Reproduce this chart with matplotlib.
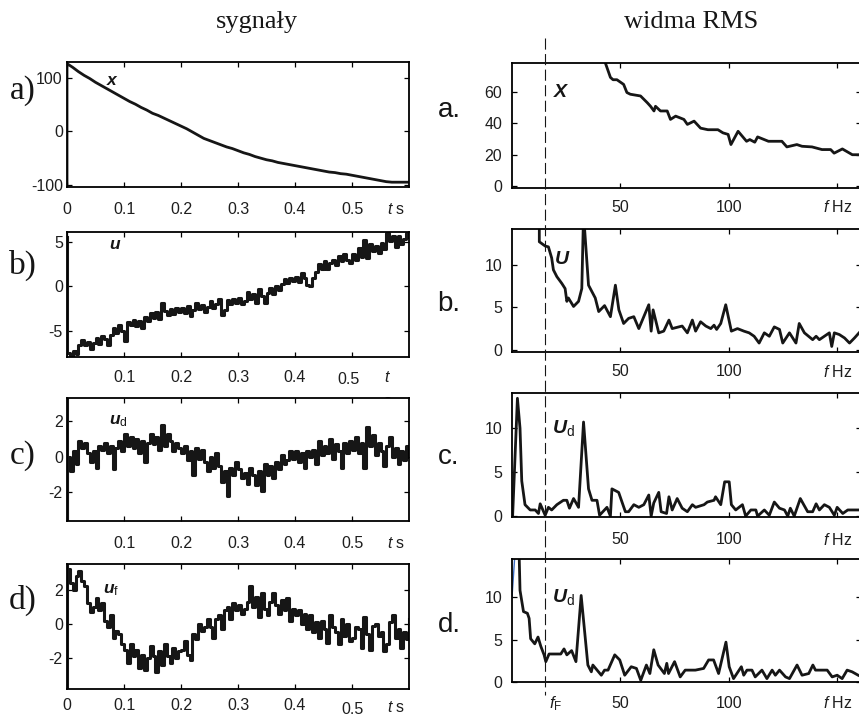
import numpy as np
import matplotlib
matplotlib.use("Agg")
import matplotlib.pyplot as plt
from matplotlib.lines import Line2D
from matplotlib.transforms import blended_transform_factory, offset_copy

plt.rcParams["font.family"] = ["Liberation Sans", "DejaVu Sans"]
plt.rcParams["axes.unicode_minus"] = False
plt.rcParams["mathtext.fontset"] = "custom"
plt.rcParams["mathtext.rm"] = "Liberation Sans"
plt.rcParams["mathtext.it"] = "Liberation Sans:italic"
plt.rcParams["mathtext.bf"] = "Liberation Sans:bold"
plt.rcParams["mathtext.bfit"] = "Liberation Sans:italic:bold"

# ---- signals (left column) ----
dt_x = 0.01
x_start = [-100]
x_sig = [127, 120, 112, 105, 99, 92, 86, 80, 74, 68,
         62, 56, 51, 45, 40, 34, 30, 25, 20, 15,
         10, 5, -1, -7, -13, -17, -21, -25, -29, -32,
         -36, -40, -43, -47, -50, -53, -55, -58, -60, -62,
         -64, -66, -68, -70, -72, -74, -76, -77, -79, -80,
         -82, -84, -86, -88, -90, -92, -94, -95, -95, -95, -95]

dt_u = 0.005
u_start = [5.5]
u_sig = [-7.5, -8.0, -7.2, -7.6, -6.5, -6.0, -6.6, -6.2, -7.0, -6.3,
         -5.8, -6.4, -5.6, -5.9, -6.5, -5.4, -4.6, -5.2, -4.3, -5.0,
         -6.1, -4.0, -4.3, -3.8, -4.4, -3.9, -4.6, -3.4, -3.9, -3.0,
         -3.5, -2.9, -3.6, -1.8, -2.8, -3.2, -2.5, -3.1, -2.4, -2.9,
         -2.4, -3.0, -2.2, -3.3, -2.6, -1.8, -2.5, -2.1, -2.9, -2.3,
         -1.6, -2.4, -2.0, -1.4, -3.2, -2.6, -1.5, -2.0, -1.4, -1.9,
         -1.3, -2.0, -1.6, -0.6, -1.4, -0.9, -1.8, -0.3, -1.1, -1.8,
         -0.7, -0.2, -0.9, 0.0, -0.4, 0.3, 0.8, 0.4, 1.0, 0.6,
         1.1, 0.5, 1.5, 1.0, 0.2, 0.0, 0.9, 1.6, 2.5, 1.9,
         2.8, 1.9, 2.6, 3.0, 2.4, 3.4, 2.9, 3.6, 3.0, 2.6,
         3.6, 3.0, 4.3, 3.3, 5.2, 3.2, 4.8, 4.0, 4.5, 3.7,
         4.9, 4.2, 6.0, 5.1, 5.7, 4.4, 5.6, 4.8, 5.3, 6.0, 5.5]

ud_start = [3.3, -3.6]
ud_sig = [0.0, -0.8, 0.3, -0.4, 0.9, 0.5, 0.8, 0.2, -0.3, 0.3,
          -0.6, 0.6, 0.4, 0.8, 0.2, 0.6, -0.7, 0.5, 0.9, 0.3,
          1.3, 0.6, 1.1, 0.5, 1.0, 0.2, 0.9, -0.3, 0.8, 1.3,
          0.7, 1.1, 0.4, 1.8, 0.6, 1.3, 0.9, 0.3, 0.8, 0.5,
          0.2, 0.6, -0.2, 0.3, -1.0, 0.5, -0.1, 0.4, -0.3, -0.8,
          0.0, -0.6, 0.2, -0.5, -1.4, -0.8, -2.2, -0.6, -1.0, -0.3,
          -0.7, -1.2, -0.9, -1.5, -0.6, -1.0, -1.6, -0.8, -1.9, -0.4,
          -1.0, -0.5, -1.2, -0.3, -0.7, 0.1, -0.4, -0.2, 0.3, -0.1,
          0.3, -0.3, 0.2, -0.6, 0.3, 0.0, 0.4, -0.4, 0.9, 0.1,
          0.6, 0.2, 1.0, -0.1, 0.7, 0.3, -0.6, 0.8, 0.2, 0.9,
          0.4, 1.1, 0.2, 0.8, -0.6, 1.7, 0.6, 1.2, 0.1, 0.8,
          0.3, -0.5, 0.6, 1.1, 0.0, 0.5, -0.4, 0.3, -0.2, 0.6, 0.0]

uf_start = [-3.8, 3.5]
uf_sig = [3.2, 2.4, 2.0, 2.8, 3.1, 2.5, 2.2, 1.2, 0.7, 1.0,
          1.5, 0.8, 1.2, 0.2, -0.2, 0.5, -0.8, -0.4, -0.6, -1.2,
          -1.5, -2.3, -1.2, -1.9, -1.5, -2.6, -1.8, -2.7, -2.0, -1.3,
          -1.9, -2.8, -1.6, -2.4, -1.2, -1.9, -2.3, -1.4, -2.0, -1.6,
          -1.5, -1.0, -1.8, -2.1, -0.6, -0.9, 0.0, -0.4, -0.2, 0.3,
          -0.2, -0.8, 0.3, 0.5, -0.3, 0.8, 1.0, 0.3, 1.2, 0.8,
          1.1, 0.6, 0.9, 1.3, 2.2, 1.0, 1.6, 0.4, 1.8, 0.9,
          0.5, 1.3, 1.8, 1.1, 0.6, 1.4, 0.8, 1.5, 0.2, 0.9,
          0.5, 0.8, 0.0, 0.6, -0.3, 0.5, -0.5, 0.1, -0.8, 0.2,
          -0.3, -1.1, 0.5, -0.2, -0.5, -1.2, 0.3, -0.7, 0.0, -1.0,
          -0.8, -0.2, -0.3, -1.4, 0.4, -0.6, -1.5, -0.1, 0.0, -0.7,
          -0.5, -1.6, -1.2, 0.1, 0.5, -0.8, -0.3, -1.4, -0.5, -0.9, 0.3]

# ---- RMS spectra (right column) ----
fX = [1.7, 10, 20, 30, 38, 43, 45.4, 46.6, 48.4, 51.5, 53, 54.6, 59.3, 62.4, 63.9,
      65.5, 66.2, 68.5, 71.6, 73.1, 75.5, 79.3, 80.9, 84, 87, 90.4, 95, 97.3, 99.7,
      101, 104.3, 108.2, 109.7, 112, 113.3, 118.3, 124.5, 126.8, 131.4, 133.8,
      138.4, 143, 147, 148.6, 152.4, 157, 161.7]
X = [300, 200, 140, 105, 88, 79, 69.5, 68, 68, 65, 59.8, 58.7, 57.6, 53.3, 51,
     48, 51, 48, 48, 42.6, 44.7, 42.6, 39.4, 41.5, 37, 36, 36, 34, 33,
     26.5, 35, 28.6, 29.7, 28, 31.4, 28.6, 28.6, 25, 26.5, 25.4,
     25, 23.3, 23.3, 21, 23.7, 20, 20]

fU = [0, 5, 10, 12.6, 12.6, 15.3, 16.8, 18.3, 19.1, 20.7, 23, 24.5, 25.3, 26, 28.4,
      30.7, 32.2, 33, 35.3, 38.4, 40, 42.7, 45.4, 47.7, 49.3, 51.5, 53.8, 56.2,
      58.5, 63.1, 64.2, 65.1, 67.7, 70, 72.4, 73.9, 78.5, 80.9, 83.2, 84.7, 87,
      89.4, 91.7, 93.2, 94.4, 96.3, 98.6, 101.2, 104, 107, 109.4, 111.7, 114,
      116.4, 118.7, 121, 123.4, 124.9, 128, 131, 132.5, 134.9, 138.7, 140.3,
      141.8, 146.4, 147.5, 148.7, 151, 153.4, 155.7, 158, 160.8]
U = [40, 25, 18, 15, 12.7, 12.2, 12.1, 10.8, 9.4, 8.6, 7.8, 7.2, 5.7, 6.1, 5.1,
     5.7, 7.2, 16, 7.6, 6.1, 4.5, 5.2, 3.9, 7.6, 4.7, 3.1, 3.7, 3.9,
     2.5, 5.3, 2.2, 4.7, 2.0, 2.2, 3.5, 2.5, 2.8, 2.0, 3.5, 2.2, 3.3,
     2.8, 2.5, 2.9, 2.4, 3.1, 5.3, 2.2, 2.5, 2.2, 2.0, 1.6, 0.8,
     2.0, 1.6, 2.7, 2.4, 0.8, 2.0, 0.8, 3.1, 2.0, 1.2, 1.6,
     1.2, 2.0, 0.4, 2.0, 1.8, 1.4, 0.8, 1.4, 2.2]

fUd = [0.3, 2.5, 3.7, 4.5, 6, 8.4, 10.7, 12.2, 13, 15.3, 16.8, 18.3, 20.7, 23.7, 25.3,
       26.5, 28.4, 30.7, 33, 35.3, 36.9, 39.2, 40.4, 43.8, 45.4, 46.1, 49.2, 52.3,
       53.8, 56.2, 58.5, 60.8, 63.1, 64.2, 65.4, 67.7, 68.8, 71.3, 72.4, 73.9,
       76.2, 78.5, 80.9, 83.2, 84.7, 88.6, 90.1, 93.2, 93.9, 96.3, 98.1, 100.2,
       101.2, 103.2, 106.3, 107.8, 110.2, 112.5, 113.3, 116.4, 118.7, 121, 123.4,
       125.7, 127.2, 128.4, 130.2, 133, 136.4, 138.7, 140.3, 141.8, 144.1, 146.4,
       148.7, 150, 152.6, 154.9, 160.8]
Ud = [0.1, 13.4, 10, 4, 1.3, 0.7, 0.7, 0.3, 1.4, 0.1, 1.0, 0.7, 1.3, 1.8, 1.8,
      0.9, 2.0, 1.0, 10.7, 3.1, 1.8, 1.8, 0.1, 1.0, 0.0, 3.1, 2.7, 0.5,
      0.5, 1.3, 1.0, 1.3, 2.4, 0.0, 1.5, 2.7, 0.5, 0.3, 2.2, 0.7,
      2.0, 0.9, 0.5, 1.3, 1.0, 1.3, 1.6, 1.8, 2.2, 1.3, 3.9, 3.9,
      1.3, 0.7, 1.3, 0.0, 0.7, 0.7, 0.0, 0.7, 0.1, 1.6, 0.9,
      0.7, 0.0, 0.9, 0.0, 2.0, 0.5, 0.5, 1.4, 0.7, 1.3, 1.0,
      0.1, 1.0, 0.3, 0.7, 0.7]

fUf = [1.7, 3.3, 3.7, 5.3, 7.1, 7.9, 8.6, 10.5, 12, 13.3, 14.8, 15.6, 17.1, 22.5, 24,
       25.3, 27.5, 29.5, 31.9, 35, 36.6, 37.3, 41.2, 42.7, 44.3, 47.4, 49.7, 52,
       55, 57.4, 59.4, 62, 63.6, 65.4, 67.4, 70.3, 71.4, 72.2, 75, 77.6, 79.9,
       84.6, 88.4, 90.7, 93, 95.3, 98.7, 100.2, 102.2, 105.8, 106.9, 108.4, 110.7,
       112.2, 115.3, 117.6, 120, 121.5, 123.4, 126.2, 128, 131.5, 133.8, 136.9,
       138.8, 140, 145.4, 147.7, 150, 152.3, 154.6, 156.9, 159.7]
Uf = [40, 15, 10.8, 8.3, 8.1, 7.5, 5.1, 4.5, 5.3, 4.2, 3.2, 2.4, 3.3, 3.3, 3.9,
      3.2, 3.7, 2.4, 10.2, 2.0, 1.2, 2.0, 0.8, 1.4, 1.4, 3.2, 2.6, 0.8,
      1.8, 1.6, 0.2, 2.0, 1.0, 3.8, 2.0, 1.0, 2.2, 1.0, 2.4, 0.6, 1.4,
      1.4, 1.6, 2.6, 2.6, 1.0, 4.7, 1.8, 0.4, 1.8, 0.8, 1.4, 1.4,
      0.6, 1.4, 0.4, 1.4, 0.8, 1.4, 0.6, 0.4, 2.0, 0.8, 1.0,
      2.0, 1.4, 1.4, 0.6, 0.8, 0.4, 1.4, 1.2, 0.8]
fUf_blue = [0, 1.6]
Uf_blue = [10, 16]

f_F = 15.3

W, H = 859, 717
fig = plt.figure(figsize=(W / 100, H / 100), dpi=100)
TXT = "#1e1e1e"
LINE = "#161616"
TICK_FS = 11.5


def box(x0, x1, y0, y1):
    return [x0 / W, 1 - y1 / H, (x1 - x0) / W, (y1 - y0) / H]


def style(ax, xticks, yticks, ypad):
    ax.set_xticks(xticks)
    ax.set_xticklabels([])
    ax.set_yticks(yticks)
    ax.tick_params(direction="in", length=3.5, width=0.9, top=True, right=True,
                   labelsize=TICK_FS, labelcolor=TXT, pad=ypad)
    for s in ax.spines.values():
        s.set_linewidth(1.3)


def xlab(ax, x, s, dy, size=TICK_FS, dx=0):
    tr = offset_copy(blended_transform_factory(ax.transData, ax.transAxes),
                     fig=fig, x=dx, y=-dy, units="dots")
    ax.text(x, 0, s, transform=tr, ha="center", va="center", fontsize=size,
            color=TXT, clip_on=False)


def signal(start, sig, dt):
    t = np.concatenate([np.zeros(len(start)), np.arange(len(sig)) * dt])
    return t, np.array(start + sig, dtype=float)


left = [
    dict(pos=box(67, 409, 62, 187), data=signal(x_start, x_sig, dt_x), ylim=(-104, 130),
         yt=[-100, 0, 100], name=r"$\mathbfit{x}$", npos=(0.068, 96), tag="a)", tagy=91),
    dict(pos=box(67, 409, 232, 357), data=signal(u_start, u_sig, dt_u), ylim=(-7.9, 6.1),
         yt=[-5, 0, 5], name=r"$\mathbfit{u}$", npos=(0.073, 4.7), tag="b)", tagy=265),
    dict(pos=box(67, 409, 398, 521), data=signal(ud_start, ud_sig, dt_u), ylim=(-3.6, 3.3),
         yt=[-2, 0, 2], name=r"$\mathbfit{u}_{\mathrm{d}}$", npos=(0.073, 2.0), tag="c)", tagy=456),
    dict(pos=box(67, 409, 564, 689), data=signal(uf_start, uf_sig, dt_u), ylim=(-3.8, 3.5),
         yt=[-2, 0, 2], name=r"$\mathbfit{u}_{\mathrm{f}}$", npos=(0.064, 2.0), tag="d)", tagy=600),
]

right = [
    dict(pos=box(512, 861, 63, 188), f=fX, v=X, ylim=(-1.3, 78.7), yt=[0, 20, 40, 60],
         name=r"$\mathbfit{X}$", npos=(18.8, 60), tag="a.", tagy=110, dy=19),
    dict(pos=box(512, 861, 229, 352), f=fU, v=U, ylim=(-0.25, 14.2), yt=[0, 5, 10],
         name=r"$\mathbfit{U}$", npos=(19.2, 10.6), tag="b.", tagy=304, dy=20),
    dict(pos=box(512, 861, 393, 517), f=fUd, v=Ud, ylim=(-0.1, 14.0), yt=[0, 5, 10],
         name=r"$\mathbfit{U}_{\mathrm{d}}$", npos=(18.6, 10), tag="c.", tagy=457, dy=23),
    dict(pos=box(512, 861, 559, 682), f=fUf, v=Uf, ylim=(0, 14.5), yt=[0, 5, 10],
         name=r"$\mathbfit{U}_{\mathrm{d}}$", npos=(18.6, 10), tag="d.", tagy=625, dy=21),
]

laxes = []
for i, p in enumerate(left):
    ax = fig.add_axes(p["pos"])
    t, y = p["data"]
    if i == 0:
        ax.plot(t, y, color=LINE, lw=2.0)
    else:
        ax.step(t, y, where="post", color=LINE, lw=2.2)
    ax.set_xlim(0, 0.6)
    ax.set_ylim(*p["ylim"])
    style(ax, [0, 0.1, 0.2, 0.3, 0.4, 0.5], p["yt"], 3.0)
    ax.text(*p["npos"], p["name"], fontsize=12.5, color=LINE, ha="left", va="center")
    fig.text(23 / W, 1 - p["tagy"] / H, p["tag"], family="Liberation Serif",
             fontsize=24, ha="center", va="center", color=LINE)
    laxes.append(ax)

tl = ["0", "0.1", "0.2", "0.3", "0.4", "0.5"]
tv = [0, 0.1, 0.2, 0.3, 0.4, 0.5]
for v, s in zip(tv, tl):
    xlab(laxes[0], v, s, 23)
xlab(laxes[0], 0.578, r"$t$ s", 23)
for v, s in zip(tv[1:5], tl[1:5]):
    xlab(laxes[1], v, s, 20)
xlab(laxes[1], 0.493, "0.5", 23)
xlab(laxes[1], 0.563, r"$t$", 20)
xlab(laxes[1], 0.563, "s", 45)
for v, s in zip(tv[1:], tl[1:]):
    xlab(laxes[2], v, s, 22)
xlab(laxes[2], 0.578, r"$t$ s", 22)
for v, s in zip(tv[:5], tl[:5]):
    xlab(laxes[3], v, s, 16)
xlab(laxes[3], 0.5, "0.5", 21)
xlab(laxes[3], 0.578, r"$t$ s", 18)

for i, p in enumerate(right):
    ax = fig.add_axes(p["pos"])
    ax.plot(p["f"], p["v"], color=LINE, lw=2.0)
    if i == 3:
        ax.plot(fUf_blue, Uf_blue, color="#3b6cc4", lw=1.0)
    ax.set_xlim(0, 161)
    ax.set_ylim(*p["ylim"])
    style(ax, [50, 100, 150], p["yt"], 7)
    ax.text(*p["npos"], p["name"], fontsize=14, color=LINE, ha="left", va="center")
    fig.text(449 / W, 1 - p["tagy"] / H, p["tag"], fontsize=20, ha="center",
             va="center", color=LINE)
    xlab(ax, 50, "50", p["dy"])
    xlab(ax, 100, "100", p["dy"])
    xlab(ax, 150.5, r"$f$ Hz", p["dy"])
    if i == 3:
        xlab(ax, f_F, r"$f_{\mathrm{F}}$", p["dy"] + 1, size=12, dx=10)

# vertical dashed marker at the filter frequency, across the right column
rp = right[0]["pos"]
xf = rp[0] + rp[2] * f_F / 161
fig.add_artist(Line2D([xf, xf], [1 - 38 / H, 1 - 695 / H], transform=fig.transFigure,
                      color=LINE, lw=0.8, ls=(0, (10, 4)), zorder=5))

fig.text(257 / W, 1 - 22 / H, "sygnały", family="Liberation Serif", fontsize=19,
         ha="center", va="center", color=LINE)
fig.text(691 / W, 1 - 22 / H, "widma RMS", family="Liberation Serif", fontsize=19,
         ha="center", va="center", color=LINE)

fig.savefig("out.png", dpi=100)
